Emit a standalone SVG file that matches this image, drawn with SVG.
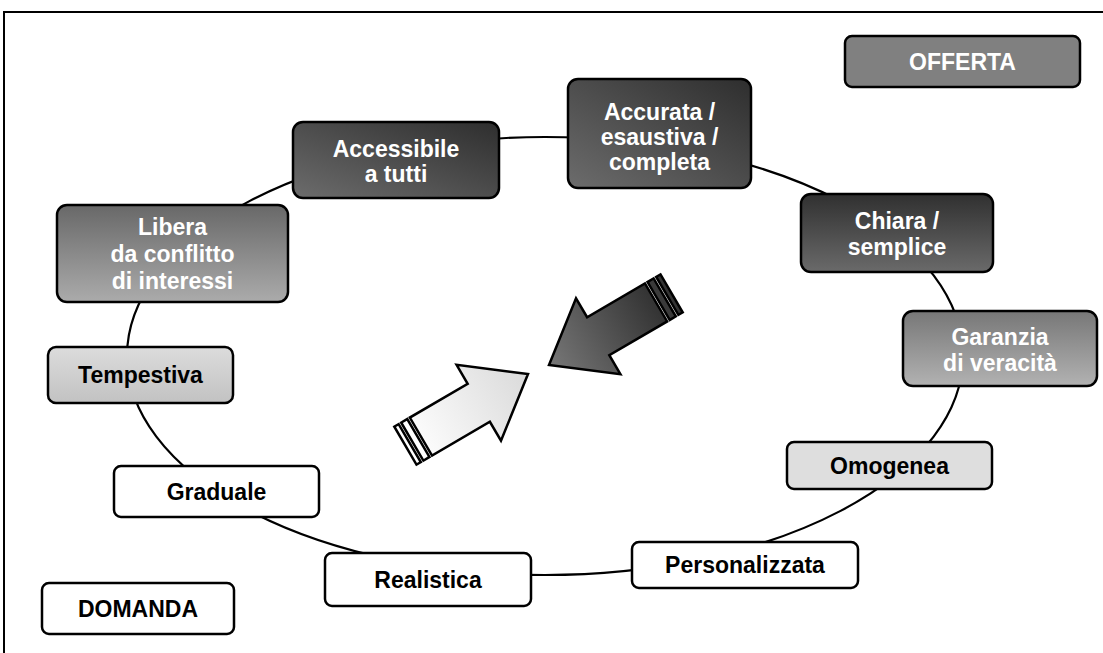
<svg xmlns="http://www.w3.org/2000/svg" width="1103" height="653" viewBox="0 0 1103 653">
<defs>
<linearGradient id="gDiag" x1="1" y1="0" x2="0" y2="1">
<stop offset="0" stop-color="#2e2e2e"/><stop offset="1" stop-color="#6c6c6c"/>
</linearGradient>
<linearGradient id="gDark" x1="0" y1="0" x2="0" y2="1">
<stop offset="0" stop-color="#303030"/><stop offset="1" stop-color="#6a6a6a"/>
</linearGradient>
<linearGradient id="gMid" x1="0" y1="0" x2="0" y2="1">
<stop offset="0" stop-color="#686868"/><stop offset="1" stop-color="#ababab"/>
</linearGradient>
<linearGradient id="gGar" x1="0" y1="0" x2="0" y2="1">
<stop offset="0" stop-color="#777"/><stop offset="1" stop-color="#b2b2b2"/>
</linearGradient>
<linearGradient id="gLight" x1="0" y1="0" x2="0" y2="1">
<stop offset="0" stop-color="#dcdcdc"/><stop offset="1" stop-color="#c2c2c2"/>
</linearGradient>
<linearGradient id="aDark" gradientUnits="userSpaceOnUse" x1="0" y1="0" x2="124" y2="0">
<stop offset="0" stop-color="#777"/><stop offset="1" stop-color="#333"/>
</linearGradient>
<linearGradient id="aLight" gradientUnits="userSpaceOnUse" x1="0" y1="0" x2="124" y2="0">
<stop offset="0" stop-color="#dadada"/><stop offset="1" stop-color="#fbfbfb"/>
</linearGradient>
<style>
.box{stroke:#000;stroke-width:2.5}
.w{fill:#fff;font-family:"Liberation Sans",Arial,sans-serif;font-weight:bold;font-size:23px;text-anchor:middle}
.b{fill:#000;font-family:"Liberation Sans",Arial,sans-serif;font-weight:bold;font-size:23px;text-anchor:middle}
.arr{stroke:#000;stroke-width:2.5;stroke-linejoin:miter}
</style>
</defs>
<rect x="4" y="12" width="1120" height="670" fill="#fff" stroke="#000" stroke-width="2"/>
<g id="connectors">
<ellipse cx="545" cy="356" rx="418" ry="219" fill="none" stroke="#000" stroke-width="2.2"/>
</g>
<g id="arrow-dark" transform="translate(549,365) rotate(-30.3)">
<polygon class="arr" fill="url(#aDark)" points="0,0 57,-44 57,-22 124,-22 124,22 57,22 57,44"/>
<rect class="arr" x="127" y="-22" width="7" height="44" fill="#3a3a3a" stroke-width="2"/>
<rect class="arr" x="137" y="-22" width="5" height="44" fill="#333" stroke-width="2"/>
</g>
<g id="arrow-light" transform="translate(528,374) rotate(149.7)">
<polygon class="arr" fill="url(#aLight)" points="0,0 57,-44 57,-22 124,-22 124,22 57,22 57,44"/>
<rect class="arr" x="127" y="-22" width="7" height="44" fill="#fff" stroke-width="2"/>
<rect class="arr" x="137" y="-22" width="5" height="44" fill="#fff" stroke-width="2"/>
</g>
<g id="offerta">
<rect class="box" x="845" y="36" width="235" height="51" rx="7" fill="#808080"/>
<text class="w" x="962.5" y="70">OFFERTA</text>
</g>
<g id="accurata">
<rect class="box" x="568" y="79" width="183" height="109" rx="10" fill="url(#gDiag)"/>
<text class="w" x="659.5" y="120">Accurata /</text>
<text class="w" x="659.5" y="145">esaustiva /</text>
<text class="w" x="659.5" y="170">completa</text>
</g>
<g id="accessibile">
<rect class="box" x="293" y="122" width="206" height="76" rx="10" fill="url(#gDiag)"/>
<text class="w" x="396" y="157">Accessibile</text>
<text class="w" x="396" y="182">a tutti</text>
</g>
<g id="libera">
<rect class="box" x="57" y="205" width="231" height="97" rx="10" fill="url(#gMid)"/>
<text class="w" x="172.5" y="235">Libera</text>
<text class="w" x="172.5" y="262">da conflitto</text>
<text class="w" x="172.5" y="289">di interessi</text>
</g>
<g id="chiara">
<rect class="box" x="801" y="194" width="192" height="78" rx="10" fill="url(#gDark)"/>
<text class="w" x="897" y="229">Chiara /</text>
<text class="w" x="897" y="255">semplice</text>
</g>
<g id="garanzia">
<rect class="box" x="903" y="311" width="194" height="75" rx="10" fill="url(#gGar)"/>
<text class="w" x="1000" y="345">Garanzia</text>
<text class="w" x="1000" y="371">di veracità</text>
</g>
<g id="tempestiva">
<rect class="box" x="48" y="347" width="185" height="56" rx="8" fill="url(#gLight)"/>
<text class="b" x="140.5" y="383">Tempestiva</text>
</g>
<g id="omogenea">
<rect class="box" x="787" y="442" width="205" height="47" rx="7" fill="#dedede"/>
<text class="b" x="889.5" y="474">Omogenea</text>
</g>
<g id="graduale">
<rect class="box" x="114" y="466" width="205" height="51" rx="7" fill="#fff"/>
<text class="b" x="216.5" y="500">Graduale</text>
</g>
<g id="personalizzata">
<rect class="box" x="632" y="542" width="226" height="46" rx="7" fill="#fff"/>
<text class="b" x="745" y="573">Personalizzata</text>
</g>
<g id="realistica">
<rect class="box" x="325" y="553" width="206" height="53" rx="7" fill="#fff"/>
<text class="b" x="428" y="588">Realistica</text>
</g>
<g id="domanda">
<rect class="box" x="42" y="583" width="192" height="51" rx="7" fill="#fff"/>
<text class="b" x="138" y="617">DOMANDA</text>
</g>
</svg>
